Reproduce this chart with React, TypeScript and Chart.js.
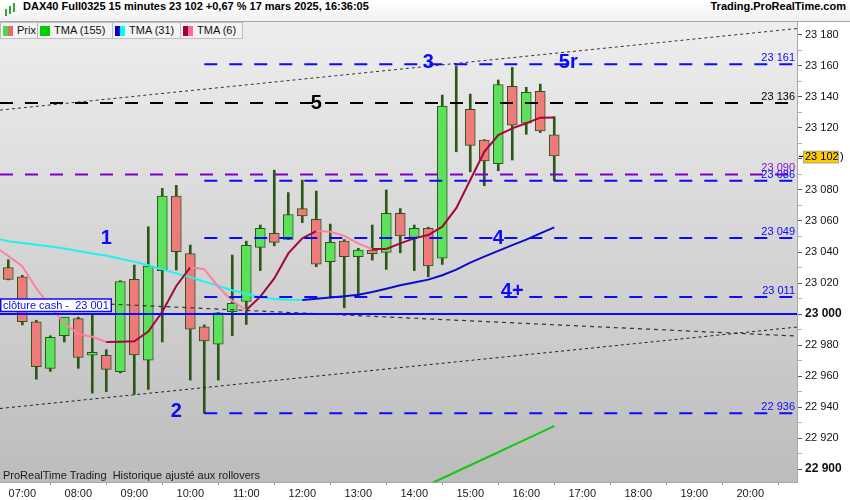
import React, { useEffect, useRef } from 'react';
import { Chart, registerables } from 'chart.js';

Chart.register(...registerables);

// ---------- data ----------
const hourLabels = ['07:00', '08:00', '09:00', '10:00', '11:00', '12:00', '13:00', '14:00', '15:00', '16:00', '17:00', '18:00', '19:00', '20:00'];
const hourTickIndex = [1, 5, 9, 13, 17, 21, 25, 29, 33, 37, 41, 45, 49, 53];

// 15-minute candles from 06:45 to 16:30
const opens = [23030, 23024, 22995, 22965, 22986, 22997, 22973.5, 22973.4, 22962.8, 23022.4, 22970.3, 23028, 23076, 23039, 22991.8, 22980.5, 23001.5, 23008.2, 23043, 23052, 23048.1, 23068, 23061, 23033.8, 23047, 23037, 23041.3, 23039.8, 23065, 23049.4, 23055.2, 23036, 23136, 23132, 23112.2, 23097, 23146.8, 23123, 23143.6, 23115.6];
const highs = [23035, 23025, 22996, 22986, 22997, 22998, 23000, 22977, 23021.5, 23031.6, 23056.3, 23081, 23083, 23044.5, 22993, 23001, 23038, 23047, 23057.4, 23092.8, 23078.3, 23086.4, 23079.3, 23058, 23048, 23042.4, 23057.4, 23080, 23068, 23057.4, 23056, 23141.2, 23160, 23141.8, 23112.5, 23150.9, 23159, 23146.2, 23148.3, 23127.2];
const lows = [23022, 22993, 22958, 22963, 22982, 22965, 22949, 22950, 22962, 22948.2, 22951.4, 22982, 23028.4, 22957.4, 22936, 22957.4, 22986, 22993.3, 23028, 23044, 23048, 23058.9, 23030.5, 23011.2, 23004, 23011.2, 23034.8, 23028.8, 23039.5, 23028, 23024, 23032, 23104.6, 23091.7, 23082.7, 23092.4, 23099.3, 23115.9, 23117, 23086];
const closes = [23022.4, 22995, 22966, 22985, 22998, 22972, 22975.3, 22964.3, 23021, 22973.6, 23031, 23076, 23040.2, 22990.3, 22982.6, 23000.8, 23006.9, 23044.3, 23055.2, 23046.2, 23064.2, 23063.2, 23032.2, 23046.2, 23037, 23041.3, 23039, 23065, 23050.3, 23055.2, 23031, 23134.1, 23136.5, 23108.8, 23098.8, 23148, 23121.7, 23143, 23118, 23102];

// moving averages (first value belongs to the candle before 06:45)
const tma6 = [23043.8, 23037.4, 23030.9, 23016.6, 23004.7, 22994.0, 22987.1, 22985.3, 22982.0, 22982.2, 22982.4, 22988.7, 23001.5, 23018.1, 23030.1, 23028.9, 23017.6, 23008.4, 23002.6, 23011.2, 23023.0, 23039.1, 23048.8, 23053.5, 23053.1, 23050.3, 23045.6, 23041.9, 23042.0, 23045.6, 23048.8, 23050.9, 23056.3, 23068.3, 23086.4, 23104.6, 23115.4, 23119.7, 23123.0, 23126.6, 23126.8];
const tma31 = [23048.7, 23047.0, 23045.8, 23044.7, 23043.5, 23042.3, 23040.7, 23039.1, 23037.7, 23035.7, 23033.8, 23031.4, 23028.8, 23026.2, 23023.7, 23020.9, 23018.1, 23015.3, 23012.9, 23010.8, 23009.7, 23009.2, 23009.0, 23009.8, 23010.6, 23011.4, 23012.5, 23014.2, 23016.3, 23018.5, 23020.4, 23022.2, 23025.0, 23028.6, 23033.2, 23037.0, 23040.7, 23044.4, 23048.0, 23052.0, 23055.9];
const tma155Start = 29;
const tma155 = [22885.7, 22889.9, 22894.1, 22898.3, 22902.5, 22906.7, 22910.9, 22915.1, 22919.3, 22923.5, 22927.8];

// horizontal levels
const blueLevels = [23161, 23086, 23049, 23011, 22936];
const blueLevelLabels = ['23 161', '23 086', '23 049', '23 011', '22 936'];
const blueLevelStart = 14;
const blackLevel = 23136;
const blackLevelLabel = '23 136';
const purpleLevel = 23090;
const purpleLevelLabel = '23 090';
const cashLevel = 23000;
const cashLabelValue = 23001;
const cashLabelText = 'clôture cash -  23 001';
const lastPrice = 23102;
const lastPriceLabel = '23 102';

// trend lines: [startIndex, startValue, endValue]
const trendUpper = [23131.5, 23184.1];
const trendLower = [22939.1, 22991.6];
const trendCashStart = 7.3;
const trendCash = [23006.4, 22985.8];

// wave count labels
const waveLabels = ['1', '2', '3', '4', '4+', '5', '5r'];
const waveIndex = [7, 12, 30, 35, 36, 22, 40];
const waveValue = [23048.4, 22937, 23162, 23049, 23014.5, 23136, 23162.5];

const Y_MIN = 22891.7;
const Y_MAX = 23188.3;
const X_MIN = -0.593;
const X_MAX = 56.34;

const FONT = '"Liberation Sans", Arial, Helvetica, sans-serif';
const RED = '#ef7a7a';
const GREEN = '#5be15b';
const OUTLINE = '#2c5718';
const BLUE = '#0a0aff';

function fmt(v: number) {
  const t = Math.floor(v / 1000);
  const r = Math.round(v - t * 1000);
  return `${t} ${String(r).padStart(3, '0')}`;
}

const overlayPlugin = {
  id: 'overlay',
  beforeDraw(chart: any) {
    const { ctx, chartArea: a, width, height } = chart;
    ctx.save();
    ctx.fillStyle = '#ffffff';
    ctx.fillRect(0, 0, width, height);
    const g = ctx.createLinearGradient(0, a.top, 0, a.bottom);
    g.addColorStop(0, '#eeeeee');
    g.addColorStop(1, '#bcbcbc');
    ctx.fillStyle = g;
    ctx.fillRect(a.left, a.top, a.right - a.left, a.bottom - a.top);
    ctx.restore();
  },
  afterDatasetsDraw(chart: any) {
    const { ctx, chartArea: a, scales } = chart;
    const xs = scales.x;
    const ys = scales.y;
    ctx.save();
    // level value labels
    ctx.font = `11px ${FONT}`;
    ctx.textAlign = 'right';
    ctx.textBaseline = 'alphabetic';
    const rx = a.right - 2;
    ctx.fillStyle = '#000000';
    ctx.fillText(blackLevelLabel, rx, ys.getPixelForValue(blackLevel) - 3);
    ctx.fillStyle = '#8a14c8';
    ctx.fillText(purpleLevelLabel, rx, ys.getPixelForValue(purpleLevel) - 3);
    ctx.fillStyle = BLUE;
    blueLevels.forEach((v, i) => {
      ctx.fillText(blueLevelLabels[i], rx, ys.getPixelForValue(v) - 3);
    });
    // wave labels
    ctx.font = `bold 20px ${FONT}`;
    ctx.textAlign = 'center';
    ctx.textBaseline = 'middle';
    waveLabels.forEach((t, i) => {
      ctx.fillStyle = t === '5' ? '#000000' : BLUE;
      ctx.fillText(t, xs.getPixelForValue(waveIndex[i]), ys.getPixelForValue(waveValue[i]));
    });
    // cash label box
    const py = ys.getPixelForValue(cashLabelValue);
    ctx.fillStyle = '#ffffff';
    ctx.fillRect(a.left, py - 13.5, 111.5, 12.5);
    ctx.strokeStyle = BLUE;
    ctx.lineWidth = 1.5;
    ctx.strokeRect(a.left + 0.75, py - 13.5, 110.5, 12.5);
    ctx.fillStyle = BLUE;
    ctx.font = `11px ${FONT}`;
    ctx.textAlign = 'left';
    ctx.textBaseline = 'middle';
    ctx.fillText(cashLabelText, a.left + 3, py - 7);
    ctx.restore();
  },
  afterDraw(chart: any) {
    const { ctx, chartArea: a, scales } = chart;
    const ys = scales.y;
    const py = ys.getPixelForValue(lastPrice);
    ctx.save();
    ctx.fillStyle = '#000';
    ctx.fillRect(a.right + 2, py, 4, 1.2);
    ctx.fillStyle = '#ffcc00';
    ctx.fillRect(a.right + 6, py - 5, 36, 12.5);
    ctx.strokeStyle = '#a8a8a8';
    ctx.lineWidth = 1;
    ctx.strokeRect(a.right + 6.5, py - 4.5, 35, 11.5);
    ctx.fillStyle = '#000';
    ctx.font = `11px ${FONT}`;
    ctx.textAlign = 'left';
    ctx.textBaseline = 'middle';
    ctx.fillText(lastPriceLabel, a.right + 8, py + 1.5);
    ctx.fillText(')', a.right + 43, py + 1.5);
    ctx.restore();
  },
};

export default function App() {
  const ref = useRef<HTMLCanvasElement>(null);

  useEffect(() => {
    const canvas = ref.current;
    if (!canvas) return;
    Chart.defaults.font.family = FONT;

    const bodies = opens.map((o, i) => ({ x: i, y: [o, closes[i]] }));
    const wicks = lows.map((l, i) => ({ x: i, y: [l, highs[i]] }));
    const bodyColors = opens.map((o, i) => (closes[i] >= o ? GREEN : RED));

    const lineDs = (data: any[], color: string, dash: number[], width: number, extra: any = {}) => ({
      type: 'line',
      data,
      borderColor: color,
      borderDash: dash,
      borderWidth: width,
      pointRadius: 0,
      tension: 0,
      order: -1,
      ...extra,
    });

    const levelSets: any[] = [];
    blueLevels.forEach((v) => {
      levelSets.push(lineDs([{ x: blueLevelStart, y: v }, { x: X_MAX, y: v }], BLUE, [13, 12], 2));
    });
    levelSets.push(lineDs([{ x: X_MIN, y: blackLevel }, { x: X_MAX, y: blackLevel }], '#000000', [13, 12], 2));
    levelSets.push(lineDs([{ x: X_MIN, y: purpleLevel }, { x: X_MAX, y: purpleLevel }], '#7a00c8', [13, 12], 2));
    levelSets.push(lineDs([{ x: X_MIN, y: cashLevel }, { x: X_MAX, y: cashLevel }], BLUE, [], 2));
    levelSets.push(lineDs([{ x: X_MIN, y: trendUpper[0] }, { x: X_MAX, y: trendUpper[1] }], '#333333', [3, 3], 1));
    levelSets.push(lineDs([{ x: X_MIN, y: trendLower[0] }, { x: X_MAX, y: trendLower[1] }], '#222222', [3, 3], 1));
    levelSets.push(lineDs([{ x: trendCashStart, y: trendCash[0] }, { x: X_MAX, y: trendCash[1] }], '#333333', [4, 4], 1.2));

    const maLine = (vals: number[], start: number, rise: string, fall: string) => ({
      type: 'line',
      data: vals.map((v, k) => ({ x: k + start, y: v })),
      borderColor: rise,
      borderWidth: 2,
      pointRadius: 0,
      tension: 0,
      order: 0,
      segment: {
        borderColor: (c: any) => (c.p1.parsed.y >= c.p0.parsed.y ? rise : fall),
      },
    });

    const chart = new Chart(canvas, {
      type: 'bar',
      data: {
        datasets: [
          maLine(tma6, -1, '#a2083c', '#ff7ea2') as any,
          maLine(tma31, -1, '#0c0cc8', '#22f0f0') as any,
          maLine(tma155, tma155Start, '#14c814', '#14c814') as any,
          ...levelSets,
          {
            type: 'bar',
            data: bodies,
            backgroundColor: bodyColors,
            borderColor: OUTLINE,
            borderWidth: 1,
            borderSkipped: false,
            barThickness: 10,
            grouped: false,
            order: 1,
          } as any,
          {
            type: 'bar',
            data: wicks,
            backgroundColor: OUTLINE,
            borderWidth: 0,
            barThickness: 2,
            grouped: false,
            order: 2,
          } as any,
        ],
      },
      options: {
        responsive: false,
        maintainAspectRatio: false,
        animation: false,
        devicePixelRatio: 1,
        layout: { padding: { top: 22, left: 0, right: 0, bottom: 0 } },
        plugins: { legend: { display: false }, tooltip: { enabled: false } },
        scales: {
          x: {
            type: 'linear',
            min: X_MIN,
            max: X_MAX,
            offset: false,
            afterFit: (s: any) => {
              s.height = 18;
            },
            afterBuildTicks: (s: any) => {
              s.ticks = hourTickIndex.map((v) => ({ value: v }));
            },
            ticks: {
              autoSkip: false,
              maxRotation: 0,
              padding: 2,
              color: '#1a1a1a',
              font: { size: 11 },
              callback: (v: any) => hourLabels[hourTickIndex.indexOf(Number(v))] ?? '',
            },
            grid: { drawOnChartArea: false, drawTicks: true, tickLength: 3, tickColor: '#9a9a9a' },
            border: { display: true, color: '#a8a8a8' },
          },
          y: {
            type: 'linear',
            position: 'right',
            min: Y_MIN,
            max: Y_MAX,
            afterFit: (s: any) => {
              s.width = 53;
            },
            afterBuildTicks: (s: any) => {
              const t: any[] = [];
              for (let v = 22900; v <= 23180; v += 10) t.push({ value: v });
              s.ticks = t;
            },
            ticks: {
              autoSkip: false,
              padding: 3,
              color: '#111111',
              font: (c: any) =>
                c.tick && c.tick.value % 100 === 0 ? { size: 12, weight: 'bold' } : { size: 11 },
              callback: (v: any) => {
                const n = Number(v);
                if (n % 20 !== 0 || n === 23100) return '';
                return fmt(n);
              },
            },
            grid: {
              drawOnChartArea: false,
              drawTicks: true,
              tickLength: 5,
              tickColor: (c: any) => (c.tick && c.tick.value % 20 === 0 ? '#555555' : '#b0b0b0'),
            },
            border: { display: true, color: '#a8a8a8' },
          },
        },
      } as any,
      plugins: [overlayPlugin],
    });

    return () => chart.destroy();
  }, []);

  const legendItem = (left: number, width: number, c1: string, c2: string, label: string) => (
    <div
      style={{
        position: 'absolute',
        left,
        top: 22,
        width,
        height: 17,
        boxSizing: 'border-box',
        border: '1px solid #bdbdbd',
        background: '#f3f3f3',
        font: `11px ${FONT}`,
        lineHeight: '15px',
        color: '#111',
        whiteSpace: 'pre',
      }}
    >
      <span style={{ position: 'absolute', left: 2, top: 3, width: 5, height: 10, background: c1 }} />
      <span style={{ position: 'absolute', left: 7, top: 3, width: 5, height: 10, background: c2 }} />
      <span style={{ position: 'absolute', left: 16, top: 0 }}>{label}</span>
    </div>
  );

  return (
    <div style={{ position: 'fixed', left: 0, top: 0, width: 850, height: 500, background: '#fff', overflow: 'hidden' }}>
      <canvas ref={ref} width={850} height={500} style={{ position: 'absolute', left: 0, top: 0, width: 850, height: 500 }} />
      <div
        style={{
          position: 'absolute',
          left: 0,
          top: 0,
          width: 850,
          height: 21,
          background: 'linear-gradient(#ffffff, #f1f1f1)',
          borderBottom: '1px solid #a6a6a6',
        }}
      >
        <span style={{ position: 'absolute', left: 5, top: 9, width: 2, height: 7, background: '#3aa03a' }} />
        <span style={{ position: 'absolute', left: 9, top: 6, width: 2, height: 8, background: '#3aa03a' }} />
        <span style={{ position: 'absolute', left: 13, top: 3, width: 2, height: 9, background: '#3aa03a' }} />
        <span
          style={{
            position: 'absolute',
            left: 23,
            top: 0,
            lineHeight: '21px',
            font: `bold 11px ${FONT}`,
            color: '#000',
            whiteSpace: 'pre',
          }}
        >
          DAX40 Full0325 15 minutes 23 102 +0,67 % 17 mars 2025, 16:36:05
        </span>
        <span
          style={{
            position: 'absolute',
            right: 4,
            top: 0,
            lineHeight: '21px',
            font: `bold 11px ${FONT}`,
            color: '#000',
          }}
        >
          Trading.ProRealTime.com
        </span>
      </div>
      {legendItem(0, 38, '#4fd84f', '#e86a6a', 'Prix')}
      {legendItem(37, 76, '#00cc00', '#00cc00', 'TMA (155)')}
      {legendItem(112, 69, '#0000cc', '#00ffff', 'TMA (31)')}
      {legendItem(180, 63, '#9e0038', '#ff6a96', 'TMA (6)')}
      <div
        style={{
          position: 'absolute',
          left: 3,
          top: 469,
          font: `11px ${FONT}`,
          lineHeight: '13px',
          color: '#1a1a1a',
          whiteSpace: 'pre',
        }}
      >
        ProRealTime Trading  Historique ajusté aux rollovers
      </div>
    </div>
  );
}
